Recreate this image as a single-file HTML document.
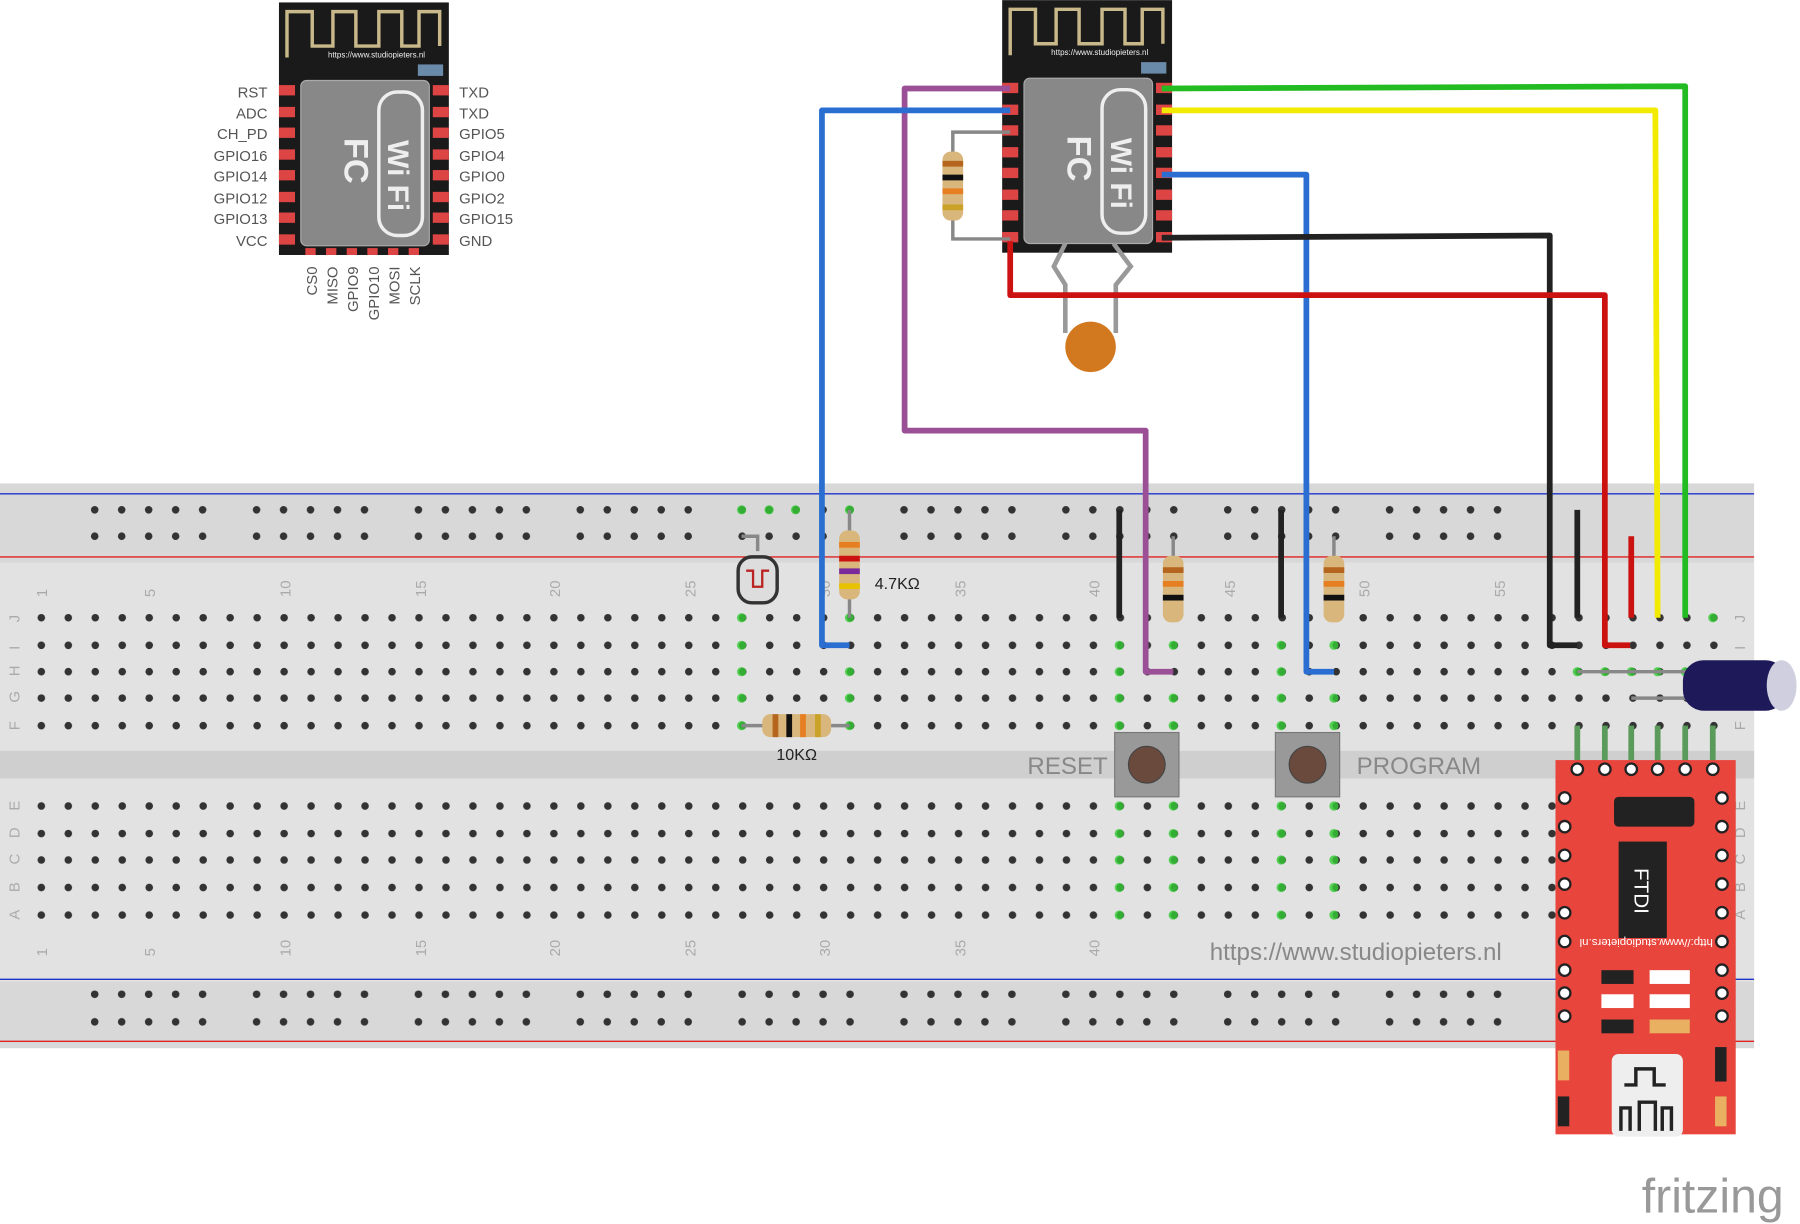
<!DOCTYPE html>
<html><head><meta charset="utf-8"><style>
html,body{margin:0;padding:0;background:#fff;}
svg{display:block;}
text{font-family:"Liberation Sans",sans-serif;}
</style></head><body>
<svg width="1800" height="1224" viewBox="0 0 1568 1066" xmlns="http://www.w3.org/2000/svg">
<defs>
<pattern id="holes" x="24.5" y="0" width="23.5" height="1066" patternUnits="userSpaceOnUse">
<circle cx="11.5" cy="538" r="3.3" fill="#333"/><circle cx="11.5" cy="562" r="3.3" fill="#333"/>
<circle cx="11.5" cy="585" r="3.3" fill="#333"/><circle cx="11.5" cy="608" r="3.3" fill="#333"/>
<circle cx="11.5" cy="632" r="3.3" fill="#333"/><circle cx="11.5" cy="702" r="3.3" fill="#333"/>
<circle cx="11.5" cy="726" r="3.3" fill="#333"/><circle cx="11.5" cy="749" r="3.3" fill="#333"/>
<circle cx="11.5" cy="773" r="3.3" fill="#333"/><circle cx="11.5" cy="797" r="3.3" fill="#333"/>
</pattern>
<pattern id="rail" x="71" y="0" width="141" height="1066" patternUnits="userSpaceOnUse">
<g fill="#333">
<circle cx="11.5" cy="444" r="3.3"/><circle cx="35" cy="444" r="3.3"/><circle cx="58.5" cy="444" r="3.3"/><circle cx="82" cy="444" r="3.3"/><circle cx="105.5" cy="444" r="3.3"/>
<circle cx="11.5" cy="467" r="3.3"/><circle cx="35" cy="467" r="3.3"/><circle cx="58.5" cy="467" r="3.3"/><circle cx="82" cy="467" r="3.3"/><circle cx="105.5" cy="467" r="3.3"/>
<circle cx="11.5" cy="866" r="3.3"/><circle cx="35" cy="866" r="3.3"/><circle cx="58.5" cy="866" r="3.3"/><circle cx="82" cy="866" r="3.3"/><circle cx="105.5" cy="866" r="3.3"/>
<circle cx="11.5" cy="890" r="3.3"/><circle cx="35" cy="890" r="3.3"/><circle cx="58.5" cy="890" r="3.3"/><circle cx="82" cy="890" r="3.3"/><circle cx="105.5" cy="890" r="3.3"/>
</g></pattern>
</defs>
<rect x="0" y="421" width="1528" height="492" fill="#d8d8d8"/>
<rect x="0" y="490" width="1528" height="365" fill="#e2e2e2"/>
<rect x="0" y="654" width="1528" height="24" fill="#cfcfcf"/>
<line x1="0" y1="430" x2="1528" y2="430" stroke="#2233cc" stroke-width="1.2"/>
<line x1="0" y1="485" x2="1528" y2="485" stroke="#dd2222" stroke-width="1.2"/>
<line x1="0" y1="853" x2="1528" y2="853" stroke="#2233cc" stroke-width="1.2"/>
<line x1="0" y1="907" x2="1528" y2="907" stroke="#dd2222" stroke-width="1.2"/>
<rect x="24" y="520" width="1480" height="300" fill="url(#holes)"/>
<rect x="70" y="430" width="1260" height="470" fill="url(#rail)"/>
<g fill="#aaa" font-size="13">
<g transform="rotate(-90)">
<text x="-520" y="41">1</text><text x="-520" y="135">5</text><text x="-520" y="253">10</text><text x="-520" y="371">15</text><text x="-520" y="488">20</text><text x="-520" y="606">25</text><text x="-520" y="723">30</text><text x="-520" y="841">35</text><text x="-520" y="958">40</text><text x="-520" y="1076">45</text><text x="-520" y="1193">50</text><text x="-520" y="1311">55</text>
<text x="-833" y="41">1</text><text x="-833" y="135">5</text><text x="-833" y="253">10</text><text x="-833" y="371">15</text><text x="-833" y="488">20</text><text x="-833" y="606">25</text><text x="-833" y="723">30</text><text x="-833" y="841">35</text><text x="-833" y="958">40</text>
<text x="-542" y="17">J</text><text x="-566" y="17">I</text><text x="-589" y="17">H</text><text x="-612" y="17">G</text><text x="-636" y="17">F</text>
<text x="-706" y="17">E</text><text x="-730" y="17">D</text><text x="-753" y="17">C</text><text x="-777" y="17">B</text><text x="-801" y="17">A</text>
<text x="-542" y="1520">J</text><text x="-566" y="1520">I</text><text x="-589" y="1520">H</text><text x="-612" y="1520">G</text><text x="-636" y="1520">F</text>
<text x="-706" y="1520">E</text><text x="-730" y="1520">D</text><text x="-753" y="1520">C</text><text x="-777" y="1520">B</text><text x="-801" y="1520">A</text>
</g></g>
<g fill="#3c3" opacity="0.8">
<circle cx="646" cy="538" r="4"/><circle cx="646" cy="562" r="4"/><circle cx="646" cy="585" r="4"/><circle cx="646" cy="608" r="4"/><circle cx="646" cy="632" r="4"/>
<circle cx="740" cy="538" r="4"/><circle cx="740" cy="585" r="4"/><circle cx="740" cy="608" r="4"/><circle cx="740" cy="632" r="4"/>
<circle cx="975" cy="562" r="4"/><circle cx="975" cy="585" r="4"/><circle cx="975" cy="608" r="4"/><circle cx="975" cy="632" r="4"/>
<circle cx="1022" cy="562" r="4"/><circle cx="1022" cy="608" r="4"/><circle cx="1022" cy="632" r="4"/>
<circle cx="1116" cy="562" r="4"/><circle cx="1116" cy="585" r="4"/><circle cx="1116" cy="608" r="4"/><circle cx="1116" cy="632" r="4"/>
<circle cx="1162" cy="562" r="4"/><circle cx="1162" cy="608" r="4"/><circle cx="1162" cy="632" r="4"/>
<circle cx="975" cy="702" r="4"/><circle cx="975" cy="726" r="4"/><circle cx="975" cy="749" r="4"/><circle cx="975" cy="773" r="4"/><circle cx="975" cy="797" r="4"/>
<circle cx="1022" cy="702" r="4"/><circle cx="1022" cy="726" r="4"/><circle cx="1022" cy="749" r="4"/><circle cx="1022" cy="773" r="4"/><circle cx="1022" cy="797" r="4"/>
<circle cx="1116" cy="702" r="4"/><circle cx="1116" cy="726" r="4"/><circle cx="1116" cy="749" r="4"/><circle cx="1116" cy="773" r="4"/><circle cx="1116" cy="797" r="4"/>
<circle cx="1162" cy="702" r="4"/><circle cx="1162" cy="726" r="4"/><circle cx="1162" cy="749" r="4"/><circle cx="1162" cy="773" r="4"/><circle cx="1162" cy="797" r="4"/>
<circle cx="646" cy="444" r="4"/><circle cx="670" cy="444" r="4"/><circle cx="693" cy="444" r="4"/><circle cx="740" cy="444" r="4"/>
<circle cx="1374" cy="585" r="4"/><circle cx="1398" cy="585" r="4"/><circle cx="1421" cy="585" r="4"/><circle cx="1444" cy="585" r="4"/><circle cx="1468" cy="585" r="4"/><circle cx="1492" cy="538" r="4"/>
</g>
<text x="930" y="674" font-size="21" fill="#888" text-anchor="middle">RESET</text>
<text x="1236" y="674" font-size="21" fill="#888" text-anchor="middle">PROGRAM</text>
<text x="1181" y="836" font-size="21" fill="#888" text-anchor="middle">https://www.studiopieters.nl</text>
<g>
<rect x="243" y="2" width="148" height="220" fill="#1a1a1a"/>
<path d="M250 50 V10 H272 V40 H290 V10 H310 V40 H330 V10 H350 V40 H365 V10 H383 V40" fill="none" stroke="#c8b88a" stroke-width="3"/>
<text x="328" y="50" font-size="7" fill="#eee" text-anchor="middle">https://www.studiopieters.nl</text>
<rect x="364" y="56" width="22" height="10" fill="#6a8aaa"/>
<rect x="262" y="70" width="112" height="144" rx="5" fill="#888" stroke="#aaa"/>
<rect x="330" y="80" width="38" height="125" rx="16" fill="none" stroke="#eee" stroke-width="3"/>
<text x="300" y="120" font-size="30" fill="#eee" font-weight="bold" transform="rotate(90 300 120)">FC</text>
<text x="338" y="122" font-size="26" fill="#eee" font-weight="bold" transform="rotate(90 338 122)">Wi Fi</text>
<g fill="#d44">
<rect x="243" y="74" width="14" height="9"/><rect x="243" y="93" width="14" height="9"/><rect x="243" y="111" width="14" height="9"/><rect x="243" y="130" width="14" height="9"/><rect x="243" y="148" width="14" height="9"/><rect x="243" y="167" width="14" height="9"/><rect x="243" y="185" width="14" height="9"/><rect x="243" y="204" width="14" height="9"/>
<rect x="377" y="74" width="14" height="9"/><rect x="377" y="93" width="14" height="9"/><rect x="377" y="111" width="14" height="9"/><rect x="377" y="130" width="14" height="9"/><rect x="377" y="148" width="14" height="9"/><rect x="377" y="167" width="14" height="9"/><rect x="377" y="185" width="14" height="9"/><rect x="377" y="204" width="14" height="9"/>
<rect x="266" y="216" width="9" height="6"/><rect x="284" y="216" width="9" height="6"/><rect x="302" y="216" width="9" height="6"/><rect x="320" y="216" width="9" height="6"/><rect x="338" y="216" width="9" height="6"/><rect x="356" y="216" width="9" height="6"/>
</g>
<g font-size="13" fill="#555" text-anchor="end">
<text x="233" y="85">RST</text><text x="233" y="103">ADC</text><text x="233" y="121">CH_PD</text><text x="233" y="140">GPIO16</text><text x="233" y="158">GPIO14</text><text x="233" y="177">GPIO12</text><text x="233" y="195">GPIO13</text><text x="233" y="214">VCC</text>
</g>
<g font-size="13" fill="#555">
<text x="400" y="85">TXD</text><text x="400" y="103">TXD</text><text x="400" y="121">GPIO5</text><text x="400" y="140">GPIO4</text><text x="400" y="158">GPIO0</text><text x="400" y="177">GPIO2</text><text x="400" y="195">GPIO15</text><text x="400" y="214">GND</text>
</g>
<g font-size="13" fill="#555" text-anchor="end">
<text transform="translate(276,232) rotate(-90)">CS0</text><text transform="translate(294,232) rotate(-90)">MISO</text><text transform="translate(312,232) rotate(-90)">GPIO9</text><text transform="translate(330,232) rotate(-90)">GPIO10</text><text transform="translate(348,232) rotate(-90)">MOSI</text><text transform="translate(366,232) rotate(-90)">SCLK</text>
</g>
</g>
<g>
<rect x="873" y="0" width="148" height="220" fill="#1a1a1a"/>
<path d="M880 48 V8 H902 V38 H920 V8 H940 V38 H960 V8 H980 V38 H995 V8 H1013 V38" fill="none" stroke="#c8b88a" stroke-width="3"/>
<text x="958" y="48" font-size="7" fill="#eee" text-anchor="middle">https://www.studiopieters.nl</text>
<rect x="994" y="54" width="22" height="10" fill="#6a8aaa"/>
<rect x="892" y="68" width="112" height="144" rx="5" fill="#888" stroke="#aaa"/>
<rect x="960" y="78" width="38" height="125" rx="16" fill="none" stroke="#eee" stroke-width="3"/>
<text x="930" y="118" font-size="30" fill="#eee" font-weight="bold" transform="rotate(90 930 118)">FC</text>
<text x="968" y="120" font-size="26" fill="#eee" font-weight="bold" transform="rotate(90 968 120)">Wi Fi</text>
<g fill="#d44">
<rect x="873" y="72" width="14" height="9"/><rect x="873" y="91" width="14" height="9"/><rect x="873" y="109" width="14" height="9"/><rect x="873" y="128" width="14" height="9"/><rect x="873" y="146" width="14" height="9"/><rect x="873" y="165" width="14" height="9"/><rect x="873" y="183" width="14" height="9"/><rect x="873" y="202" width="14" height="9"/>
<rect x="1007" y="72" width="14" height="9"/><rect x="1007" y="91" width="14" height="9"/><rect x="1007" y="109" width="14" height="9"/><rect x="1007" y="128" width="14" height="9"/><rect x="1007" y="146" width="14" height="9"/><rect x="1007" y="165" width="14" height="9"/><rect x="1007" y="183" width="14" height="9"/><rect x="1007" y="202" width="14" height="9"/>
</g>
</g>
<polyline points="880,115 830,115 830,208 880,208" fill="none" stroke="#888" stroke-width="3"/>
<rect x="821" y="132" width="18" height="60" rx="7" fill="#d9b77c"/>
<rect x="821" y="140" width="18" height="5" fill="#b5651d"/><rect x="821" y="152" width="18" height="5" fill="#111"/><rect x="821" y="164" width="18" height="5" fill="#e67e22"/><rect x="821" y="178" width="18" height="5" fill="#c9a227"/>
<path d="M928 212 L918 232 L928 248 V290 M970 212 L985 232 L972 248 V290" fill="none" stroke="#999" stroke-width="4"/>
<circle cx="950" cy="302" r="22" fill="#d2781f"/>
<g fill="none" stroke-width="5" stroke-linejoin="round">
<polyline points="880,77 788,77 788,375 998,375 998,585 1022,585" stroke="#9b4f96"/>
<polyline points="880,96 716,96 716,562 740,562" stroke="#2a6ed1"/>
<polyline points="1012,77 1468,75 1468,538" stroke="#22bb22"/>
<polyline points="1012,96 1442,96 1444,538" stroke="#f2ea00"/>
<polyline points="1012,152 1138,152 1138,585 1162,585" stroke="#2a6ed1"/>
<polyline points="1012,207 1350,205 1350,562 1374,562" stroke="#222"/>
<polyline points="880,210 880,257 1398,257 1398,562 1420,562" stroke="#cc1111"/>
<line x1="975" y1="444" x2="975" y2="538" stroke="#222"/>
<line x1="1116" y1="444" x2="1116" y2="538" stroke="#222"/>
<line x1="1374" y1="444" x2="1374" y2="538" stroke="#222"/>
<line x1="1421" y1="467" x2="1421" y2="538" stroke="#cc1111"/>
</g>
<line x1="740" y1="444" x2="740" y2="538" stroke="#888" stroke-width="3"/>
<rect x="731" y="462" width="18" height="60" rx="7" fill="#d9b77c"/>
<rect x="731" y="472" width="18" height="5" fill="#e67e22"/><rect x="731" y="484" width="18" height="5" fill="#cc1111"/><rect x="731" y="495" width="18" height="5" fill="#7a2a9a"/><rect x="731" y="508" width="18" height="5" fill="#e6c200"/>
<text x="762" y="513" font-size="14" fill="#222">4.7KΩ</text>
<line x1="1022" y1="467" x2="1022" y2="538" stroke="#888" stroke-width="3"/>
<rect x="1013" y="484" width="18" height="58" rx="7" fill="#d9b77c"/>
<rect x="1013" y="494" width="18" height="5" fill="#b5651d"/><rect x="1013" y="506" width="18" height="5" fill="#e67e22"/><rect x="1013" y="518" width="18" height="5" fill="#111"/>
<line x1="1162" y1="467" x2="1162" y2="538" stroke="#888" stroke-width="3"/>
<rect x="1153" y="484" width="18" height="58" rx="7" fill="#d9b77c"/>
<rect x="1153" y="494" width="18" height="5" fill="#b5651d"/><rect x="1153" y="506" width="18" height="5" fill="#e67e22"/><rect x="1153" y="518" width="18" height="5" fill="#111"/>
<line x1="646" y1="632" x2="740" y2="632" stroke="#888" stroke-width="3"/>
<rect x="664" y="622" width="60" height="20" rx="7" fill="#d9b77c"/>
<rect x="673" y="622" width="5" height="20" fill="#b5651d"/><rect x="685" y="622" width="5" height="20" fill="#111"/><rect x="697" y="622" width="5" height="20" fill="#e67e22"/><rect x="710" y="622" width="5" height="20" fill="#c9a227"/>
<text x="694" y="662" font-size="14" fill="#222" text-anchor="middle">10KΩ</text>
<polyline points="646,467 660,467 660,480 M660,530 660,538 646,538" fill="none" stroke="#888" stroke-width="3"/>
<rect x="643" y="485" width="34" height="40" rx="12" fill="#ddd" stroke="#333" stroke-width="3"/>
<path d="M650 497 h6 v14 h8 v-14 h6" fill="none" stroke="#b22" stroke-width="2"/>
<rect x="971" y="638" width="56" height="56" fill="#999" stroke="#777"/><circle cx="999" cy="666" r="16" fill="#6b4a3e" stroke="#444"/>
<rect x="1111" y="638" width="56" height="56" fill="#999" stroke="#777"/><circle cx="1139" cy="666" r="16" fill="#6b4a3e" stroke="#444"/>
<line x1="1374" y1="585" x2="1470" y2="585" stroke="#888" stroke-width="3"/>
<line x1="1421" y1="608" x2="1470" y2="608" stroke="#888" stroke-width="3"/>
<rect x="1466" y="575" width="90" height="44" rx="18" fill="#1e1a5a"/>
<ellipse cx="1552" cy="597" rx="13" ry="22" fill="#cfcfe0"/>
<g>
<g fill="none" stroke="#5a9a5a" stroke-width="5">
<line x1="1374" y1="632" x2="1374" y2="680"/><line x1="1398" y1="632" x2="1398" y2="680"/><line x1="1421" y1="632" x2="1421" y2="680"/><line x1="1444" y1="632" x2="1444" y2="680"/><line x1="1468" y1="632" x2="1468" y2="680"/><line x1="1492" y1="632" x2="1492" y2="680"/>
</g>
<rect x="1355" y="662" width="157" height="326" fill="#e8453c"/>
<g fill="#fff" stroke="#222" stroke-width="2">
<circle cx="1363" cy="695" r="5"/><circle cx="1363" cy="720" r="5"/><circle cx="1363" cy="745" r="5"/><circle cx="1363" cy="770" r="5"/><circle cx="1363" cy="795" r="5"/><circle cx="1363" cy="820" r="5"/><circle cx="1363" cy="845" r="5"/><circle cx="1363" cy="865" r="5"/><circle cx="1363" cy="885" r="5"/>
<circle cx="1500" cy="695" r="5"/><circle cx="1500" cy="720" r="5"/><circle cx="1500" cy="745" r="5"/><circle cx="1500" cy="770" r="5"/><circle cx="1500" cy="795" r="5"/><circle cx="1500" cy="820" r="5"/><circle cx="1500" cy="845" r="5"/><circle cx="1500" cy="865" r="5"/><circle cx="1500" cy="885" r="5"/>
<circle cx="1374" cy="670" r="5"/><circle cx="1398" cy="670" r="5"/><circle cx="1421" cy="670" r="5"/><circle cx="1444" cy="670" r="5"/><circle cx="1468" cy="670" r="5"/><circle cx="1492" cy="670" r="5"/>
</g>
<rect x="1406" y="694" width="70" height="26" rx="4" fill="#222"/>
<rect x="1410" y="733" width="42" height="84" fill="#222"/>
<text transform="translate(1424,756) rotate(90)" font-size="18" fill="#fff">FTDI</text>
<text transform="translate(1376,818) rotate(180)" font-size="10" fill="#fff" text-anchor="end">http://www.studiopieters.nl</text>
<rect x="1395" y="845" width="28" height="12" fill="#222"/><rect x="1437" y="845" width="35" height="12" fill="#fff"/>
<rect x="1395" y="866" width="28" height="12" fill="#fff"/><rect x="1437" y="866" width="35" height="12" fill="#fff"/>
<rect x="1395" y="888" width="28" height="12" fill="#222"/><rect x="1437" y="888" width="35" height="12" fill="#e8b060"/>
<rect x="1404" y="918" width="62" height="72" rx="6" fill="#eee"/>
<path d="M1415 945 h10 v-14 h16 v14 h10 M1412 985 v-20 h8 v20 M1428 985 v-25 h14 v25 M1448 985 v-20 h8 v20" fill="none" stroke="#222" stroke-width="3"/>
<rect x="1357" y="915" width="10" height="26" fill="#e8b060"/><rect x="1357" y="955" width="10" height="26" fill="#222"/>
<rect x="1494" y="912" width="10" height="30" fill="#222"/><rect x="1494" y="955" width="10" height="26" fill="#e8b060"/>
</g>
<text x="1492" y="1056" font-size="42" fill="#999" text-anchor="middle" font-family="DejaVu Sans, sans-serif">fritzing</text>
</svg>
</body></html>
